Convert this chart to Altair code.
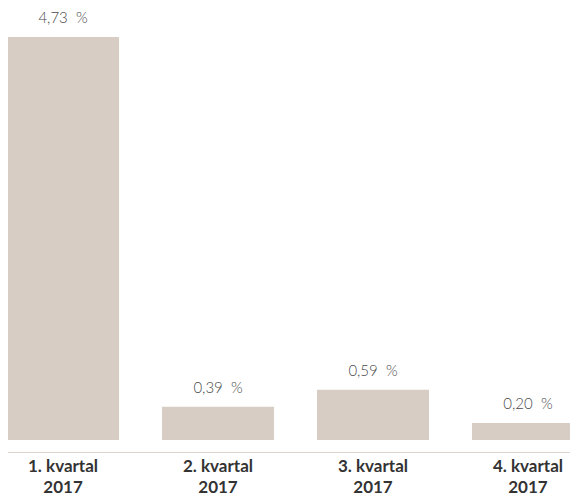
import altair as alt
import pandas as pd

quarters = ["1. kvartal", "2. kvartal", "3. kvartal", "4. kvartal"]
years = ["2017", "2017", "2017", "2017"]
values = [4.73, 0.39, 0.59, 0.20]

df = pd.DataFrame({
    "cat": [f"{q}|{y}" for q, y in zip(quarters, years)],
    "value": values,
})

bar_color = "#d8cdc4"

base = alt.Chart(df).encode(
    x=alt.X(
        "cat:N",
        sort=None,
        scale=alt.Scale(paddingInner=0.277, paddingOuter=0, range=[-1, 576]),
        axis=alt.Axis(
            title=None,
            labelExpr="split(datum.label, '|')",
            labelAngle=0,
            labelFont="Lato",
            labelFontWeight="bold",
            labelFontSize=17,
            labelColor="#333333",
            labelLineHeight=21,
            labelPadding=6,
            ticks=False,
            domainColor="#ddd5cf",
            domainWidth=1,
            offset=12,
            labelBaseline="top",
        ),
    ),
    y=alt.Y(
        "value:Q",
        scale=alt.Scale(domain=[0, max(values)], nice=False, zero=True),
        axis=None,
    ),
)

bars = base.mark_bar(color=bar_color)

labels = base.transform_calculate(
    lbl="replace(format(datum.value, '.2f'), '.', ',') + '\u00a0\u00a0%'"
).mark_text(
    dy=-19,
    font="Lato",
    fontSize=15,
    fontWeight=300,
    color="#4a4a4a",
).encode(text="lbl:N")

chart = (bars + labels).properties(
    width=562,
    height=403,
    padding={"top": 29, "left": 0, "right": 0, "bottom": 60},
    autosize=alt.AutoSizeParams(type="none"),
).configure_view(stroke=None)

chart.save("out.html", embed_options={"renderer": "svg", "actions": False})
